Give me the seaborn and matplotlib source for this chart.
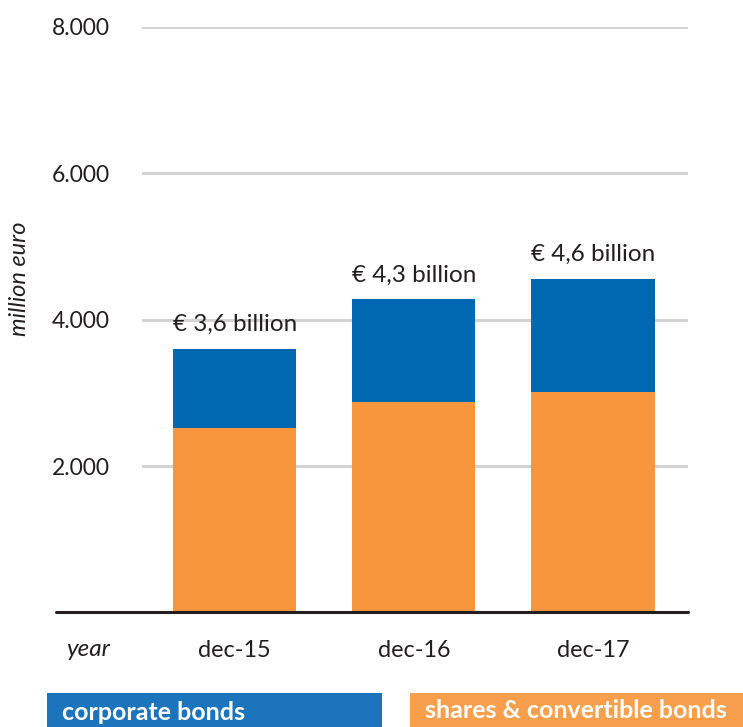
import matplotlib
matplotlib.use("Agg")
import matplotlib.pyplot as plt
from matplotlib.lines import Line2D
from matplotlib.patches import Rectangle
import seaborn as sns
import pandas as pd

# Portfolio composition, million euro
periods = ["dec-15", "dec-16", "dec-17"]
shares_convertibles = [2520, 2870, 3010]
corporate_bonds = [1080, 1410, 1550]
y_ticks = [2000, 4000, 6000, 8000]

totals = [s + b for s, b in zip(shares_convertibles, corporate_bonds)]
df = pd.DataFrame({
    "period": periods,
    "shares": shares_convertibles,
    "bonds": corporate_bonds,
    "total": totals,
})

sns.set_theme(style="white")
plt.rcParams["font.family"] = ["Lato", "DejaVu Sans"]

TEXT = "#231F20"
BLUE = "#0067B1"
ORANGE = "#F7963C"
LEG_BLUE = "#1C75BC"
LEG_ORANGE = "#F89F4E"
GRID = "#D1D3D4"

W, H = 743, 727
fig = plt.figure(figsize=(W / 100, H / 100), dpi=100)
ax = fig.add_axes([142 / W, 1 - 612.5 / H, 546 / W, (612.5 - 27) / H])

# Stacked bars: full total in blue, shares overlaid in orange from zero
sns.barplot(data=df, x="period", y="total", color=BLUE, saturation=1,
            width=0.687, linewidth=0, edgecolor="none", ax=ax, zorder=2)
sns.barplot(data=df, x="period", y="shares", color=ORANGE, saturation=1,
            width=0.687, linewidth=0, edgecolor="none", ax=ax, zorder=3)

ax.set_ylim(0, 8000)
ax.set_xlim(-0.517, 2.53)
ax.set_yticks(y_ticks)
ax.set_yticklabels([f"{v:,}".replace(",", ".") for v in y_ticks])
ax.yaxis.grid(True, color=GRID, linewidth=2.2, zorder=0)
ax.set_axisbelow(True)
for sp in ax.spines.values():
    sp.set_visible(False)
ax.tick_params(axis="y", length=0, pad=23, labelsize=16.5, labelcolor=TEXT)
ax.tick_params(axis="x", length=0, pad=20, labelsize=16.8, labelcolor=TEXT)
ax.set_xlabel("")
ax.set_ylabel("")

# Total labels above each bar
for i, t in enumerate(totals):
    label = f"€ {t / 1000:.1f} billion".replace(".", ",")
    ax.annotate(label, (i, t), xytext=(0, 10), textcoords="offset points",
                ha="center", va="bottom", fontsize=17.5, color=TEXT)

# Baseline extending under the "year" label
fig.add_artist(Line2D([56 / W, 688 / W], [1 - 612 / H, 1 - 612 / H],
                      color=TEXT, linewidth=2.2, transform=fig.transFigure,
                      zorder=5))

fig.text(88 / W, 1 - 649 / H, "year", ha="center", va="center",
         fontsize=17.5, style="italic", color=TEXT)
fig.text(20 / W, 1 - 279 / H, "million euro", ha="center", va="center",
         rotation=90, fontsize=17, style="italic", color=TEXT)

# Legend chips
fig.add_artist(Rectangle((47 / W, 0), 335 / W, 34 / H, transform=fig.transFigure,
                         facecolor=LEG_BLUE, edgecolor="none"))
fig.add_artist(Rectangle((410 / W, 0), 333 / W, 34 / H, transform=fig.transFigure,
                         facecolor=LEG_ORANGE, edgecolor="none"))
fig.text(62 / W, 1 - 712 / H, "corporate bonds", ha="left", va="center",
         fontsize=18, fontweight="bold", color="white")
fig.text(425 / W, 1 - 710 / H, "shares & convertible bonds", ha="left",
         va="center", fontsize=18, fontweight="bold", color="white")

fig.savefig("out.png", dpi=100)
